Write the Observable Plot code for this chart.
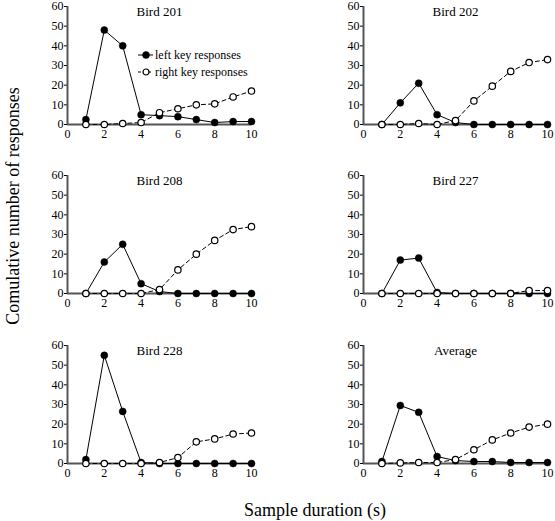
<!DOCTYPE html>
<html><head><meta charset="utf-8">
<script src="https://cdn.jsdelivr.net/npm/d3@7"></script>
<script src="https://cdn.jsdelivr.net/npm/@observablehq/plot@0.6"></script>
<style>
body{margin:0;overflow:hidden;background:#fff;font-family:"Liberation Serif","Times New Roman",serif}
#wrap{position:relative;width:555px;height:521px;overflow:hidden}
.panel{position:absolute}
.panel svg text{font-family:"Liberation Serif","Times New Roman",serif}
.lab{position:absolute;white-space:nowrap;font-size:18px;color:#000}
</style></head><body><div id="wrap"></div>
<script>
const durations = [1,2,3,4,5,6,7,8,9,10];
const xTicks = [0,2,4,6,8,10];
const yTicks = [0,10,20,30,40,50,60];
const panelTitles = ["Bird 201","Bird 202","Bird 208","Bird 227","Bird 228","Average"];
const seriesNames = ["left key responses","right key responses"];
const xLabel = "Sample duration (s)";
const yLabel = "Comulative number of responses";

const left201  = [2.5,48,40,5,4.5,4,2.5,1,1.5,1.5];
const right201 = [0,0,0.5,1,6,8,10,10.5,14,17];
const left202  = [0,11,21,5,1,0,0,0,0,0];
const right202 = [0,0,0.5,0,2,12,19.5,27,31.5,33];
const left208  = [0,16,25,5,1,0,0,0,0,0];
const right208 = [0,0,0,0,2,12,20,27,32.5,34];
const left227  = [0,17,18,0.5,0,0,0,0,0,0];
const right227 = [0,0,0,0,0,0,0,0,1.5,1.5];
const left228  = [2,55,26.5,0.5,0,0,0,0,0,0];
const right228 = [0,0,0,0,0.5,3,11,12.5,15,15.5];
const leftAvg  = [1,29.5,26,3.5,1.5,1,1,0.5,0.5,0.5];
const rightAvg = [0,0.3,0.5,0.5,2,7,12,15.5,18.5,20];

const leftSeries = [left201,left202,left208,left227,left228,leftAvg];
const rightSeries = [right201,right202,right208,right227,right228,rightAvg];

const colLeft = [30, 326];
const rowTop = [-2, 167, 337];

function panel(title, left, right) {
  const rows = durations.map((d,i)=>({d, left:left[i], right:right[i]}));
  return Plot.plot({
    width: 229, height: 148,
    marginLeft: 37, marginRight: 8, marginTop: 8, marginBottom: 22,
    style: {fontFamily: '"Liberation Serif", serif', fontSize: "12px", color: "#000", background: "transparent", overflow: "visible"},
    x: {domain: [0,10], ticks: xTicks, tickSize: 0, tickPadding: 5, label: null},
    y: {domain: [0,60], ticks: yTicks, tickSize: 3, tickPadding: 1, label: null},
    marks: [
      Plot.ruleX([0], {stroke: "#555", strokeWidth: 2}),
      Plot.ruleY([0], {stroke: "#555", strokeWidth: 2}),
      Plot.line(rows, {x: "d", y: "left", stroke: "#000", strokeWidth: 1}),
      Plot.dot(rows, {x: "d", y: "left", r: 3.5, fill: "#000", stroke: "#000", strokeWidth: 0.5}),
      Plot.line(rows, {x: "d", y: "right", stroke: "#000", strokeWidth: 1, strokeDasharray: "4,3"}),
      Plot.dot(rows, {x: "d", y: "right", r: 3.2, fill: "#fff", stroke: "#000", strokeWidth: 1.2}),
      Plot.text([title], {frameAnchor: "top", text: d => d, fontSize: 13, fill: "#000"})
    ]
  });
}

const wrap = document.getElementById("wrap");
panelTitles.forEach((t, i) => {
  const div = document.createElement("div");
  div.className = "panel";
  div.style.left = colLeft[i % 2] + "px";
  div.style.top = rowTop[Math.floor(i / 2)] + "px";
  div.appendChild(panel(t, leftSeries[i], rightSeries[i]));
  wrap.appendChild(div);
});

// legend (inside first panel)
const leg = d3.create("svg").attr("width", 160).attr("height", 32)
  .style("position", "absolute").style("left", "136px").style("top", "47px")
  .style("overflow", "visible")
  .style("font-family", '"Liberation Serif", serif').style("font-size", "12px");
seriesNames.forEach((name, i) => {
  const g = leg.append("g").attr("transform", `translate(0,${8 + i * 17})`);
  g.append("line").attr("x1", 2).attr("x2", 17).attr("y1", 0).attr("y2", 0)
    .attr("stroke", "#000").attr("stroke-dasharray", i ? "3,2" : null);
  g.append("circle").attr("cx", 10).attr("cy", 0).attr("r", i ? 3 : 3.5)
    .attr("fill", i ? "#fff" : "#000").attr("stroke", "#000").attr("stroke-width", i ? 1.2 : 0.5);
  g.append("text").attr("x", 19).attr("y", 0).attr("dy", "0.35em").text(name);
});
wrap.appendChild(leg.node());

const xl = document.createElement("div");
xl.className = "lab"; xl.textContent = xLabel;
xl.style.left = "315px"; xl.style.top = "510px"; xl.style.transform = "translate(-50%,-50%)";
wrap.appendChild(xl);

const yl = document.createElement("div");
yl.className = "lab"; yl.textContent = yLabel;
yl.style.left = "13px"; yl.style.top = "206px"; yl.style.transform = "translate(-50%,-50%) rotate(-90deg)";
wrap.appendChild(yl);
</script>
</body></html>
